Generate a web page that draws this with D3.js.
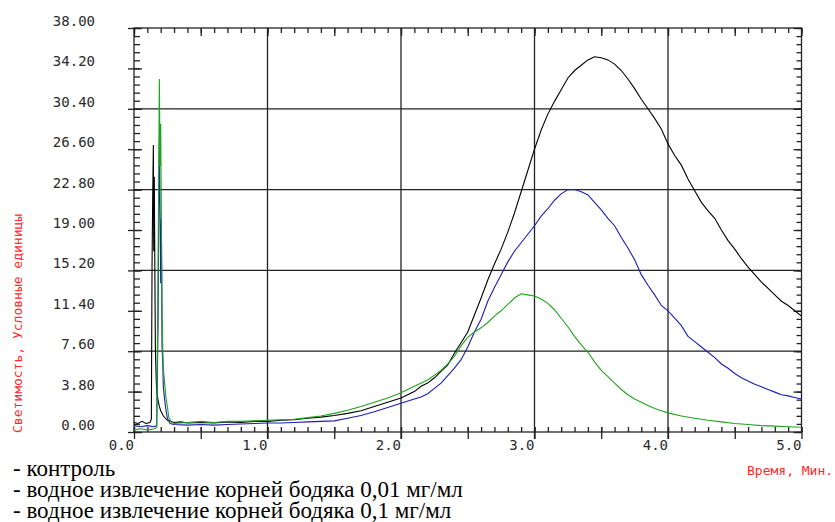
<!DOCTYPE html>
<html>
<head>
<meta charset="utf-8">
<script src="https://cdn.jsdelivr.net/npm/d3@7"></script>
<style>
body { margin: 0; background: #fff; }
</style>
</head>
<body>
<svg id="chart" width="835" height="522"></svg>
<script>
// series: [time (min), luminosity]
var control = [
  [0, 0.9], [0.03, 0.8], [0.06, 1.0], [0.09, 0.8], [0.12, 0.9], [0.13, 1.2],
  [0.135, 15.5], [0.14, 22], [0.145, 27.0], [0.148, 17], [0.152, 24], [0.156, 15.6],
  [0.16, 8], [0.165, 5.5], [0.17, 3.8], [0.18, 3.0], [0.19, 2.4], [0.2, 2.0],
  [0.22, 1.5], [0.25, 1.1], [0.3, 0.9], [0.35, 0.95], [0.4, 0.85], [0.5, 0.9],
  [0.6, 0.85], [0.7, 0.95], [0.8, 0.9], [0.9, 1.0], [1.0, 1.0], [1.1, 1.1],
  [1.2, 1.15], [1.3, 1.3], [1.4, 1.4], [1.5, 1.55], [1.6, 1.75], [1.7, 2.0],
  [1.8, 2.4], [1.9, 2.8], [2.0, 3.2], [2.1, 3.8], [2.15, 4.3], [2.2, 4.6],
  [2.25, 5.1], [2.3, 5.7], [2.35, 6.3], [2.4, 7.4], [2.45, 8.4], [2.5, 9.4],
  [2.55, 11.0], [2.6, 12.6], [2.65, 14.3], [2.7, 15.8], [2.75, 17.2], [2.8, 18.8],
  [2.85, 20.6], [2.9, 22.6], [2.95, 24.6], [3.0, 26.6], [3.05, 28.4], [3.1, 29.9],
  [3.15, 31.1], [3.2, 32.2], [3.25, 33.3], [3.3, 34.0], [3.35, 34.5], [3.4, 35.0],
  [3.45, 35.3], [3.5, 35.2], [3.55, 35.0], [3.6, 34.6], [3.65, 34.0], [3.7, 33.2],
  [3.75, 32.3], [3.8, 31.3], [3.85, 30.4], [3.9, 29.5], [3.95, 28.5], [4.0, 27.1],
  [4.05, 26.0], [4.1, 25.1], [4.15, 23.8], [4.2, 22.7], [4.25, 21.6], [4.3, 20.8],
  [4.35, 20.1], [4.4, 19.0], [4.45, 18.0], [4.5, 17.2], [4.55, 16.3], [4.6, 15.5],
  [4.65, 14.8], [4.7, 14.1], [4.75, 13.5], [4.8, 12.9], [4.85, 12.3], [4.9, 11.9],
  [4.95, 11.4], [5.0, 10.9]
]
var extract001 = [
  [0, 0.6], [0.05, 0.5], [0.1, 0.6], [0.15, 0.5], [0.17, 0.6], [0.18, 10],
  [0.185, 20], [0.19, 27.2], [0.195, 21], [0.2, 14], [0.205, 20], [0.21, 8],
  [0.215, 6.7], [0.22, 4.2], [0.23, 3.0], [0.24, 2.0], [0.25, 1.3], [0.27, 0.8],
  [0.3, 0.7], [0.4, 0.65], [0.5, 0.7], [0.6, 0.65], [0.7, 0.7], [0.8, 0.75],
  [0.9, 0.8], [1.0, 0.85], [1.1, 0.85], [1.2, 0.9], [1.3, 0.95], [1.4, 1.0],
  [1.5, 1.05], [1.6, 1.3], [1.7, 1.55], [1.8, 1.9], [1.9, 2.3], [2.0, 2.7],
  [2.1, 3.1], [2.15, 3.3], [2.2, 3.6], [2.25, 4.1], [2.3, 4.6], [2.35, 5.3],
  [2.4, 6.0], [2.45, 6.8], [2.5, 8.0], [2.55, 9.4], [2.6, 10.6], [2.65, 12.3],
  [2.7, 13.6], [2.75, 14.8], [2.8, 16.0], [2.85, 17.0], [2.9, 17.8], [2.95, 18.6],
  [3.0, 19.4], [3.05, 20.3], [3.1, 21.0], [3.15, 21.8], [3.2, 22.4], [3.25, 22.8],
  [3.3, 22.8], [3.35, 22.6], [3.4, 22.3], [3.45, 21.6], [3.5, 20.9], [3.55, 20.1],
  [3.6, 19.4], [3.65, 18.3], [3.7, 17.3], [3.75, 16.2], [3.8, 14.8], [3.85, 13.8],
  [3.9, 12.9], [3.95, 11.9], [4.0, 11.4], [4.05, 10.7], [4.1, 10.0], [4.15, 9.0],
  [4.2, 8.5], [4.25, 8.0], [4.3, 7.5], [4.35, 7.0], [4.4, 6.4], [4.45, 6.0],
  [4.5, 5.5], [4.55, 5.1], [4.6, 4.8], [4.65, 4.5], [4.7, 4.25], [4.75, 4.0],
  [4.8, 3.75], [4.85, 3.5], [4.9, 3.4], [4.95, 3.25], [5.0, 3.1]
]
var extract01 = [
  [0, 0.2], [0.05, 0.3], [0.1, 0.2], [0.15, 0.3], [0.17, 0.4], [0.18, 15],
  [0.185, 24], [0.19, 33.2], [0.195, 25], [0.2, 29], [0.205, 20], [0.21, 12],
  [0.215, 8], [0.22, 6], [0.23, 4.5], [0.24, 3.2], [0.25, 2.4], [0.26, 1.4],
  [0.28, 0.9], [0.3, 0.8], [0.4, 0.9], [0.5, 1.0], [0.6, 0.9], [0.7, 1.0],
  [0.8, 1.0], [0.9, 1.05], [1.0, 1.1], [1.1, 1.15], [1.2, 1.2], [1.3, 1.35],
  [1.4, 1.5], [1.5, 1.75], [1.6, 2.05], [1.7, 2.4], [1.8, 2.8], [1.9, 3.2],
  [2.0, 3.7], [2.1, 4.3], [2.2, 4.9], [2.3, 5.8], [2.35, 6.4], [2.4, 7.1],
  [2.45, 8.1], [2.5, 8.9], [2.55, 9.4], [2.6, 9.8], [2.65, 10.3], [2.7, 10.9],
  [2.75, 11.4], [2.8, 12.0], [2.85, 12.6], [2.9, 13.0], [2.95, 12.9], [3.0, 12.8],
  [3.05, 12.5], [3.1, 12.1], [3.15, 11.5], [3.2, 10.7], [3.25, 9.9], [3.3, 9.0],
  [3.35, 8.2], [3.4, 7.5], [3.45, 6.6], [3.5, 5.8], [3.55, 5.2], [3.6, 4.6],
  [3.65, 4.0], [3.7, 3.5], [3.75, 3.1], [3.8, 2.8], [3.85, 2.5], [3.9, 2.2],
  [3.95, 2.0], [4.0, 1.8], [4.1, 1.5], [4.2, 1.3], [4.3, 1.1], [4.4, 0.95],
  [4.5, 0.8], [4.6, 0.7], [4.7, 0.6], [4.8, 0.55], [4.9, 0.5], [5.0, 0.45]
]
var seriesColors = ["#000000", "#1c1cb4", "#1fa31f"]

var yTicks = [0, 3.8, 7.6, 11.4, 15.2, 19.0, 22.8, 26.6, 30.4, 34.2, 38.0]
var xTicks = [0, 1, 2, 3, 4, 5]
var xHalfTicks = [0, 0.5, 1, 1.5, 2, 2.5, 3, 3.5, 4, 4.5, 5]
var gridY = [7.6, 15.2, 22.8, 30.4]
var gridX = [1, 2, 3, 4]
var yTitle = "Светимость, Условные единицы"
var xTitle = "Время, Мин."
var legendLabels = [
  "- контроль",
  "- водное извлечение корней бодяка 0,01 мг/мл",
  "- водное извлечение корней бодяка 0,1 мг/мл"
]

//layout (plot box edges)
var boxL = 134, boxR = 801.5, boxT = 28, boxB = 432
var x = d3.scaleLinear().domain([0, 5]).range([boxL, boxR])
var y = d3.scaleLinear().domain([0, 38]).range([boxB, boxT])
var minorY = d3.range(0, 51).map(function(i) { return i * 0.76 })
var minorX = d3.range(0, 51).map(function(i) { return i / 10 })

var svg = d3.select("#chart")
var ink = "#222"

function tickAxis(axis, tx, ty) {
  svg.append("g")
    .attr("transform", "translate(" + tx + "," + ty + ")")
    .call(axis.tickFormat(""))
    .call(function(g) { g.select(".domain").remove() })
    .selectAll("line")
    .attr("stroke", ink)
    .attr("stroke-width", 1.3)
}

function setText(pos_x, pos_y, txt, size, family, color, anchor) {
  return svg.append("text")
    .attr("x", pos_x)
    .attr("y", pos_y)
    .attr("text-anchor", anchor)
    .style("font-family", family)
    .style("font-size", size + "px")
    .style("fill", color)
    .text(txt)
}

// grid
svg.selectAll(".gx").data(gridX).enter().append("line")
  .attr("x1", function(d) { return x(d) }).attr("x2", function(d) { return x(d) })
  .attr("y1", boxT).attr("y2", boxB + 7)
  .attr("stroke", ink).attr("stroke-width", 1.3)
svg.selectAll(".gy").data(gridY).enter().append("line")
  .attr("x1", boxL).attr("x2", boxR)
  .attr("y1", function(d) { return y(d) }).attr("y2", function(d) { return y(d) })
  .attr("stroke", ink).attr("stroke-width", 1.3)

// ticks on all four sides
tickAxis(d3.axisRight(y).tickValues(minorY).tickSize(6), boxL, 0)
tickAxis(d3.axisLeft(y).tickValues(yTicks).tickSize(6), boxL, 0)
tickAxis(d3.axisRight(y).tickValues(yTicks).tickSize(8), boxL, 0)
tickAxis(d3.axisLeft(y).tickValues(minorY).tickSize(5), boxR, 0)
tickAxis(d3.axisLeft(y).tickValues(yTicks).tickSize(8), boxR, 0)
tickAxis(d3.axisTop(x).tickValues(minorX).tickSize(5), 0, boxB)
tickAxis(d3.axisBottom(x).tickValues(xHalfTicks).tickSize(7), 0, boxB)
tickAxis(d3.axisTop(x).tickValues(xHalfTicks).tickSize(5), 0, boxB)
tickAxis(d3.axisBottom(x).tickValues(minorX).tickSize(5), 0, boxT)
tickAxis(d3.axisBottom(x).tickValues(xHalfTicks).tickSize(8), 0, boxT)

svg.append("rect")
  .attr("x", boxL).attr("y", boxT)
  .attr("width", boxR - boxL).attr("height", boxB - boxT)
  .attr("fill", "none").attr("stroke", ink).attr("stroke-width", 1.3)

// tick labels
var mono = "'DejaVu Sans Mono', monospace"
yTicks.forEach(function(v) {
  setText(95, y(v) - 2, d3.format(".2f")(v), 14, mono, "#2a2a2a", "end")
})
xTicks.forEach(function(v) {
  setText(x(v), 450, d3.format(".1f")(v), 14, mono, "#2a2a2a", "end")
})

// curves
var line = d3.line()
  .x(function(d) { return x(d[0]) })
  .y(function(d) { return y(d[1]) })
svg.selectAll(".curve")
  .data([control, extract001, extract01])
  .enter()
  .append("path")
  .attr("d", line)
  .attr("fill", "none")
  .attr("stroke", function(d, i) { return seriesColors[i] })
  .attr("stroke-width", 1.1)

// axis titles
setText(0, 0, yTitle, 13, mono, "#ff2a2a", "start")
  .attr("transform", "translate(22,433) rotate(-90)")
setText(747, 475, xTitle, 13, mono, "#ff2a2a", "start")

// legend
legendLabels.forEach(function(t, i) {
  setText(13, 476 + i * 21, t, 23, "'Liberation Serif', 'DejaVu Serif', serif", "#000", "start")
})
</script>
</body>
</html>
